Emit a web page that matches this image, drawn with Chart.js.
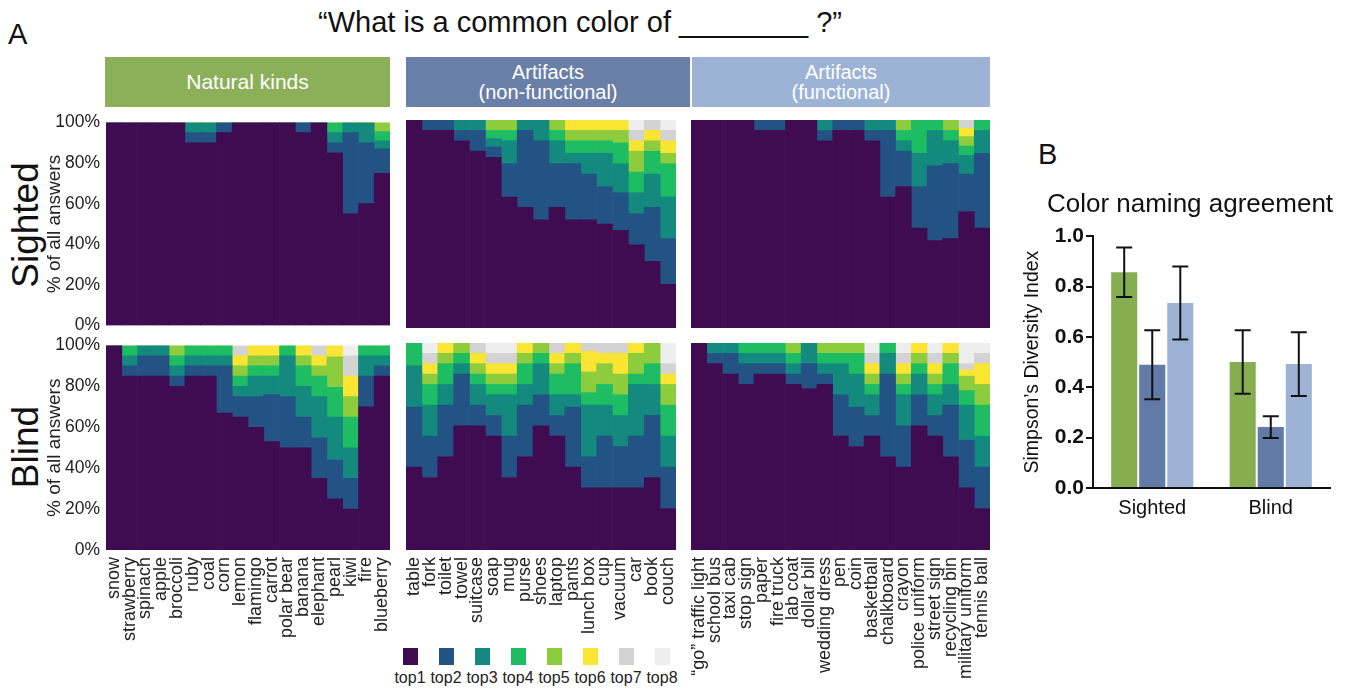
<!DOCTYPE html>
<html>
<head>
<meta charset="utf-8">
<script src="https://cdn.jsdelivr.net/npm/chart.js@4.4.1/dist/chart.umd.min.js"></script>
<style>
  body { margin: 0; width: 1354px; height: 690px; position: relative; overflow: hidden; background: #fff;
         font-family: "Liberation Sans", Arial, sans-serif; color: #111; }
  canvas { position: absolute; }
  .txt { position: absolute; white-space: nowrap; }
  .head { position: absolute; top: 57px; height: 50px; color: #fff; display: flex; align-items: center;
          justify-content: center; text-align: center; font-size: 20px; line-height: 20px; }
  .rowlab { position: absolute; width: 200px; height: 44px; line-height: 44px; text-align: center;
            font-size: 37px; transform: rotate(-90deg); }
  #legend { position: absolute; left: 392px; top: 648px; display: flex; }
  #legend div { width: 36px; text-align: center; font-size: 16px; color: #222; }
  #legend span { display: block; width: 15px; height: 17px; margin: 0 auto 4px auto; }
</style>
</head>
<body>
<div class="txt" style="left:8px; top:20px; font-size:29px; line-height:29px;">A</div>
<div class="txt" style="left:0; width:1160px; text-align:center; top:8px; font-size:29px; line-height:29px;">“What is a common color of ________ ?”</div>
<div class="txt" style="left:1038px; top:140px; font-size:29px; line-height:29px;">B</div>

<div class="head" style="left:105px; width:285px; background:#8cb05a; font-size:21px;">Natural kinds</div>
<div class="head" style="left:406px; width:284px; background:#6a7fa7;">Artifacts<br>(non-functional)</div>
<div class="head" style="left:692px; width:298px; background:#9cb3d5;">Artifacts<br>(functional)</div>

<div class="rowlab" style="left:-74px; top:203px;">Sighted</div>
<div class="rowlab" style="left:-74px; top:425px;">Blind</div>

<div id="legend"></div>

<script>
Chart.defaults.font.family = '"Liberation Sans", Arial, sans-serif';
Chart.defaults.color = '#222';
Chart.defaults.animation = false;

const rankNames = ['top1', 'top2', 'top3', 'top4', 'top5', 'top6', 'top7', 'top8'];
const rankColors = ['#3f0c51', '#235284', '#14897e', '#1ebd63', '#8dcd3d', '#fae532', '#d3d3d3', '#eeeeee'];

const naturalKinds = ['snow', 'strawberry', 'spinach', 'apple', 'broccoli', 'ruby', 'coal', 'corn', 'lemon',
  'flamingo', 'carrot', 'polar bear', 'banana', 'elephant', 'pearl', 'kiwi', 'fire', 'blueberry'];
const nonFunctional = ['table', 'fork', 'toilet', 'towel', 'suitcase', 'soap', 'mug', 'purse', 'shoes',
  'laptop', 'pants', 'lunch box', 'cup', 'vacuum', 'car', 'book', 'couch'];
const functional = ['“go” traffic light', 'school bus', 'taxi cab', 'stop sign', 'paper', 'fire truck',
  'lab coat', 'dollar bill', 'wedding dress', 'pen', 'coin', 'basketball', 'chalkboard', 'crayon',
  'police uniform', 'street sign', 'recycling bin', 'military uniform', 'tennis ball'];

// % of answers per rank (top1..top8) for each item
const sightedNatural = [
  [100], [100], [100], [100], [100], [90, 5, 5], [90, 5, 5], [95, 5], [100], [100], [100], [100],
  [95, 5], [100], [85, 5, 5, 5], [55, 40, 5], [60, 30, 10], [75, 12, 4, 4.5, 4.5]];
const sightedNonFunctional = [
  [100], [95, 5], [95, 5], [90, 5, 5], [85, 10, 5], [82, 5, 4, 4, 5], [63, 16, 11, 5, 5], [58, 37, 5],
  [52, 38, 10], [58, 21, 11, 5, 5], [52, 27, 5, 6, 5, 5], [52, 22, 10, 6, 5, 5], [50, 18, 16, 6, 5, 5],
  [47, 18, 14, 10, 6, 5], [40, 15, 10, 10, 10, 5, 5, 5], [32, 26, 16, 11, 5, 5, 5], [21, 22, 20, 16, 5, 6, 5, 5]];
const sightedFunctional = [
  [100], [100], [100], [100], [95, 5], [95, 5], [100], [100], [90, 5, 5], [95, 5], [95, 5], [90, 5, 5],
  [63, 32, 5], [68, 17, 5, 5, 5], [48, 20, 16, 16], [42, 36, 17, 5], [43, 36, 11, 5, 5],
  [56, 18, 9, 4.5, 4.5, 4, 4], [48, 36, 11, 5]];
const blindNatural = [
  [100], [85, 5, 5, 5], [85, 10, 5], [85, 10, 5], [80, 5, 5, 5, 5], [85, 5, 5, 5], [85, 5, 5, 5],
  [67, 23, 5, 5], [65, 10, 5, 5, 5, 5, 5], [60, 15, 10, 5, 5, 5], [53, 23, 9, 5, 5, 5], [50, 25, 20, 5],
  [50, 15, 15, 10, 5, 5], [35, 20, 20, 10, 5, 5, 5], [25, 19, 21, 14.5, 15, 5.5],
  [20, 15, 15, 15, 10, 10, 10, 5], [70, 15, 10, 5], [85, 5, 5, 5]];
const blindNonFunctional = [
  [40, 29, 20, 11], [35, 20, 15, 10, 5, 5, 5, 5], [45, 25, 10, 10, 5, 5], [60, 25, 5, 5, 5],
  [60, 10, 10, 5, 5, 5, 5], [55, 10, 10, 5, 5, 5, 5, 5], [35, 20, 20, 5, 5, 5, 5, 5], [45, 25, 10, 10, 5, 5],
  [60, 15, 15, 5, 5], [55, 10, 10, 10, 5, 5, 5], [40, 29, 6, 15, 5, 5], [30, 15, 25, 6, 10, 10, 4],
  [30, 25, 15, 10, 10, 5, 5], [30, 20, 15, 10, 10, 10, 5], [30, 25, 25, 5, 10, 5], [35, 30, 15, 10, 10],
  [20, 20, 15, 15, 10, 5, 5, 10]];
const blindFunctional = [
  [100], [90, 5, 5], [85, 10, 5], [80, 10, 5, 5], [85, 5, 5, 5], [85, 5, 5, 5], [80, 5, 5, 5, 5],
  [78, 12, 10], [80, 5, 5, 5, 5], [55, 20, 15, 5, 5], [50, 19, 16, 10, 5], [55, 10, 10, 5, 5, 5, 5, 5],
  [45, 40, 10, 5], [40, 20, 15, 5, 5, 5, 5, 5], [60, 15, 10, 5, 5, 5], [55, 10, 10, 5, 5, 5, 5, 5],
  [45, 25, 10, 10, 5, 5], [30, 23, 17, 7, 7, 3, 3, 10], [20, 20, 15, 15, 10, 10, 5, 5]];

// panel B
const groups = ['Sighted', 'Blind'];
const naturalIdx = [0.857, 0.50];
const naturalErr = [0.098, 0.126];
const nonFuncIdx = [0.489, 0.242];
const nonFuncErr = [0.137, 0.043];
const funcIdx = [0.735, 0.492];
const funcErr = [0.145, 0.127];

const plotLeft = [106, 406, 691];
const plotWidth = [284, 270, 299];
const plotTop = [120, 343];
const plotHeight = [208, 207];

function makePanel(labels, bars, col, row) {
  const showY = col === 0, showX = row === 1;
  const padT = 14, padS = 6;
  const yw = showY ? 70 : 0;
  const c = document.createElement('canvas');
  c.width = plotWidth[col] + 2 * padS + yw;
  c.height = padT + plotHeight[row] + (showX ? 138 : 14);
  c.style.left = (plotLeft[col] - padS - yw) + 'px';
  c.style.top = (plotTop[row] - padT) + 'px';
  document.body.appendChild(c);

  const datasets = rankNames.map((name, r) => ({
    label: name,
    data: bars.map(b => b[r] || 0),
    backgroundColor: rankColors[r],
    borderWidth: 0,
    categoryPercentage: 1,
    barPercentage: 1
  }));

  const xScale = {
    stacked: true,
    display: showX,
    grid: { display: false, drawTicks: false },
    border: { display: false },
    ticks: { autoSkip: false, minRotation: 90, maxRotation: 90, padding: 7,
             font: { size: 18 }, color: '#222' }
  };
  if (showX) {
    xScale.afterFit = s => { s.height = 138; s.paddingLeft = 0; s.paddingRight = 0; };
  }

  new Chart(c, {
    type: 'bar',
    data: { labels: labels, datasets: datasets },
    options: {
      responsive: false,
      layout: { padding: { top: padT, left: padS, right: padS, bottom: showX ? 0 : 14 } },
      plugins: { legend: { display: false }, tooltip: { enabled: false } },
      scales: {
        x: xScale,
        y: {
          stacked: true,
          display: showY,
          min: 0, max: 100,
          grid: { display: false, drawTicks: false },
          border: { display: false },
          ticks: { stepSize: 20, padding: 6, font: { size: 17.5 }, color: '#222', callback: v => v + '%' },
          title: { display: true, text: '% of all answers', font: { size: 19 }, color: '#222',
                   padding: { top: 7, bottom: 0 } },
          afterFit: s => { s.width = yw; }
        }
      }
    }
  });
}

makePanel(naturalKinds, sightedNatural, 0, 0);
makePanel(nonFunctional, sightedNonFunctional, 1, 0);
makePanel(functional, sightedFunctional, 2, 0);
makePanel(naturalKinds, blindNatural, 0, 1);
makePanel(nonFunctional, blindNonFunctional, 1, 1);
makePanel(functional, blindFunctional, 2, 1);

// legend
const legend = document.getElementById('legend');
rankNames.forEach((n, i) => {
  const d = document.createElement('div');
  d.innerHTML = '<span style="background:' + rankColors[i] + '"></span>' + n;
  legend.appendChild(d);
});

// panel B with error bars
const errorBars = {
  id: 'errorBars',
  afterDatasetsDraw(chart) {
    const ctx = chart.ctx, y = chart.scales.y;
    ctx.save();
    ctx.strokeStyle = '#111';
    ctx.lineWidth = 2;
    chart.data.datasets.forEach((ds, i) => {
      chart.getDatasetMeta(i).data.forEach((bar, j) => {
        const v = ds.data[j], e = ds.err[j];
        const t = y.getPixelForValue(v + e), b = y.getPixelForValue(v - e);
        ctx.beginPath();
        ctx.moveTo(bar.x, t); ctx.lineTo(bar.x, b);
        ctx.moveTo(bar.x - 8, t); ctx.lineTo(bar.x + 8, t);
        ctx.moveTo(bar.x - 8, b); ctx.lineTo(bar.x + 8, b);
        ctx.stroke();
      });
    });
    ctx.restore();
  }
};

const cb = document.createElement('canvas');
cb.width = 360; cb.height = 350;
cb.style.left = '1010px'; cb.style.top = '180px';
document.body.appendChild(cb);

new Chart(cb, {
  type: 'bar',
  data: {
    labels: groups,
    datasets: [
      { label: 'Natural kinds', data: naturalIdx, err: naturalErr, backgroundColor: '#86ad4f' },
      { label: 'Artifacts (non-functional)', data: nonFuncIdx, err: nonFuncErr, backgroundColor: '#627aa6' },
      { label: 'Artifacts (functional)', data: funcIdx, err: funcErr, backgroundColor: '#9cb3d5' }
    ]
  },
  options: {
    responsive: false,
    datasets: { bar: { categoryPercentage: 0.71, barPercentage: 0.93, borderWidth: 0 } },
    layout: { padding: 0 },
    plugins: {
      legend: { display: false },
      tooltip: { enabled: false },
      title: { display: true, text: 'Color naming agreement', font: { size: 26, weight: 'normal' },
               color: '#111', padding: { top: 9, bottom: 16 } }
    },
    scales: {
      x: {
        grid: { display: false, drawTicks: false },
        border: { display: true, color: '#111', width: 2 },
        ticks: { font: { size: 20 }, color: '#111', padding: 8 },
        afterFit: s => { s.height = 42; }
      },
      y: {
        min: 0, max: 1,
        grid: { display: true, drawOnChartArea: false, drawTicks: true, tickLength: 7, color: '#111', lineWidth: 2 },
        border: { display: true, color: '#111', width: 2 },
        ticks: { stepSize: 0.2, padding: 2, font: { size: 21, weight: 'bold' }, color: '#111',
                 callback: v => v.toFixed(1) },
        title: { display: true, text: 'Simpson’s Diversity Index', font: { size: 19.5 }, color: '#111',
                 padding: { top: 11, bottom: 0 } },
        afterFit: s => { s.width = 83; }
      },
      // empty right-hand spacer so the title stays centred on the canvas
      spacer: {
        type: 'linear', position: 'right', display: true,
        grid: { display: false, drawTicks: false }, border: { display: false },
        ticks: { display: false },
        afterFit: s => { s.width = 40; }
      }
    }
  },
  plugins: [errorBars]
});
</script>
</body>
</html>
